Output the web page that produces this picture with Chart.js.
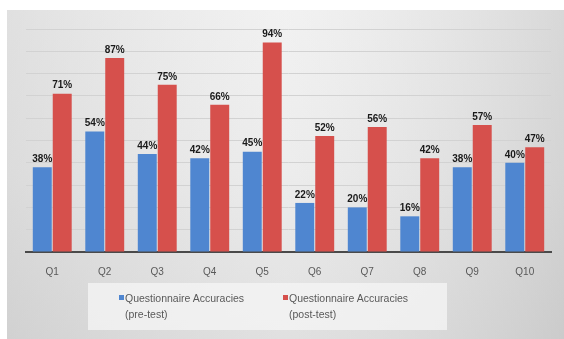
<!DOCTYPE html>
<html>
<head>
<meta charset="utf-8">
<script src="https://cdn.jsdelivr.net/npm/chart.js@4.4.1/dist/chart.umd.min.js"></script>
<style>
  html, body { margin: 0; padding: 0; background: #ffffff; }
  body { width: 564px; height: 339px; position: relative; overflow: hidden; font-family: "Liberation Sans", Arial, sans-serif; }
  #wrap { position: absolute; left: 7px; top: 10px; width: 557px; height: 329px; }
  #legend { position: absolute; left: 81px; top: 273px; width: 359px; height: 47px; background: rgba(245,245,245,0.75); }
  .item { position: absolute; top: 7px; font-size: 10.5px; line-height: 16px; color: #595959; }
  .mark { position: absolute; left: -6px; top: 5px; width: 5px; height: 5px; }
</style>
</head>
<body>
<div id="wrap">
  <canvas id="c" width="557" height="329"></canvas>
  <div id="legend"></div>
</div>
<script>
const categories = ["Q1", "Q2", "Q3", "Q4", "Q5", "Q6", "Q7", "Q8", "Q9", "Q10"];
const preTest = [38, 54, 44, 42, 45, 22, 20, 16, 38, 40];
const postTest = [71, 87, 75, 66, 94, 52, 56, 42, 57, 47];
const seriesNames = [["Questionnaire Accuracies", "(pre-test)"], ["Questionnaire Accuracies", "(post-test)"]];
const seriesColors = ["#4f86d0", "#d6504c"];

const bgPlugin = {
  id: "bg",
  beforeDraw(chart) {
    const { ctx, width, height } = chart;
    ctx.save();
    const g = ctx.createLinearGradient(0, 0, 0, height);
    g.addColorStop(0, "#ededed");
    g.addColorStop(0.5, "#e6e6e6");
    g.addColorStop(1, "#d6d6d6");
    ctx.fillStyle = g;
    ctx.fillRect(0, 0, width, height);
    const h = ctx.createLinearGradient(0, 0, width, 0);
    h.addColorStop(0, "rgba(200,200,200,0.35)");
    h.addColorStop(0.5, "rgba(255,255,255,0.25)");
    h.addColorStop(1, "rgba(190,190,190,0.45)");
    ctx.fillStyle = h;
    ctx.fillRect(0, 0, width, height);
    ctx.restore();
  }
};

const labelPlugin = {
  id: "vals",
  afterDatasetsDraw(chart) {
    const { ctx } = chart;
    ctx.save();
    ctx.font = "bold 10px 'Liberation Sans Narrow', 'Liberation Sans', Arial, sans-serif";
    ctx.fillStyle = "#1a1a1a";
    ctx.textAlign = "center";
    ctx.textBaseline = "bottom";
    chart.data.datasets.forEach((ds, i) => {
      chart.getDatasetMeta(i).data.forEach((bar, j) => {
        ctx.fillText(ds.data[j] + "%", bar.x, bar.y - 3);
      });
    });
    ctx.restore();
  }
};

new Chart(document.getElementById("c"), {
  type: "bar",
  data: {
    labels: categories,
    datasets: [
      { label: seriesNames[0].join(" "), data: preTest, backgroundColor: seriesColors[0] },
      { label: seriesNames[1].join(" "), data: postTest, backgroundColor: seriesColors[1] }
    ]
  },
  options: {
    responsive: false,
    animation: false,
    devicePixelRatio: 1,
    layout: { padding: { left: 19, right: 13, top: 19, bottom: 0 } },
    datasets: { bar: { categoryPercentage: 0.76, barPercentage: 0.95 } },
    plugins: { legend: { display: false }, tooltip: { enabled: false } },
    scales: {
      x: {
        grid: { display: false },
        border: { color: "#4a4a4a", width: 2 },
        ticks: { color: "#595959", font: { size: 10, family: "'Liberation Sans', Arial" }, padding: 6 },
        afterFit(s) { s.height = 87; }
      },
      y: {
        display: true,
        min: 0, max: 100,
        ticks: { display: false, stepSize: 10 },
        grid: { color: "#d2d2d2", lineWidth: 1, drawTicks: false },
        border: { display: false },
        afterFit(s) { s.width = 0; }
      }
    }
  },
  plugins: [bgPlugin, labelPlugin]
});

const legend = document.getElementById("legend");
const lefts = [37, 201];
seriesNames.forEach((lines, i) => {
  const d = document.createElement("div");
  d.className = "item";
  d.style.left = lefts[i] + "px";
  d.innerHTML = '<span class="mark" style="background:' + seriesColors[i] + '"></span>' + lines.join("<br>");
  legend.appendChild(d);
});
</script>
</body>
</html>
